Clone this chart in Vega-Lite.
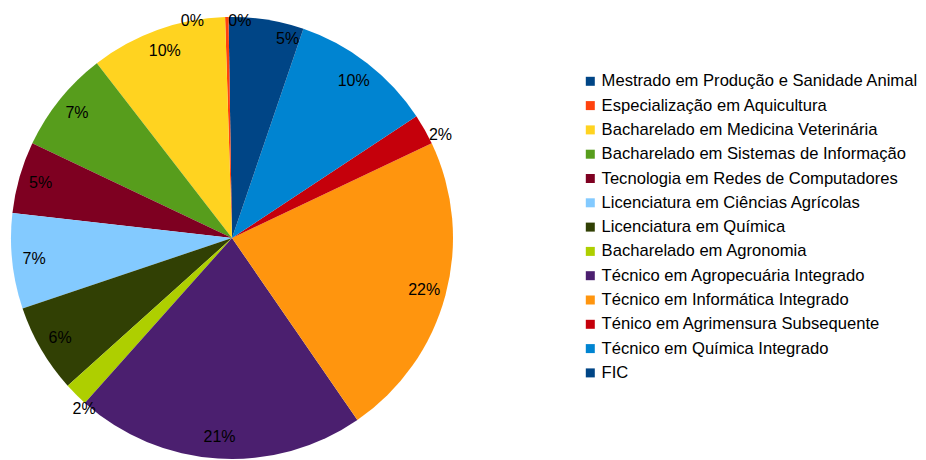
{
  "$schema": "https://vega.github.io/schema/vega-lite/v6.json",
  "autosize": {"type": "none"},
  "padding": {"left": 10, "top": 16, "right": 472, "bottom": 0},
  "width": 444,
  "height": 444,
  "background": "white",
  "config": {"view": {"stroke": null}, "font": "Liberation Sans"},
  "data": {
    "values": [
      {"idx": 1, "name": "Mestrado em Produção e Sanidade Animal", "count": 1},
      {"idx": 2, "name": "Especialização em Aquicultura", "count": 1},
      {"idx": 3, "name": "Bacharelado em Medicina Veterinária", "count": 40},
      {"idx": 4, "name": "Bacharelado em Sistemas de Informação", "count": 30},
      {"idx": 5, "name": "Tecnologia em Redes de Computadores", "count": 21},
      {"idx": 6, "name": "Licenciatura em Ciências Agrícolas", "count": 28},
      {"idx": 7, "name": "Licenciatura em Química", "count": 26},
      {"idx": 8, "name": "Bacharelado em Agronomia", "count": 7},
      {"idx": 9, "name": "Técnico em Agropecuária Integrado", "count": 85},
      {"idx": 10, "name": "Técnico em Informática Integrado", "count": 90},
      {"idx": 11, "name": "Ténico em Agrimensura Subsequente", "count": 9},
      {"idx": 12, "name": "Técnico em Química Integrado", "count": 42},
      {"idx": 13, "name": "FIC", "count": 21}
    ]
  },
  "transform": [
    {"joinaggregate": [{"op": "sum", "field": "count", "as": "total"}]},
    {"calculate": "datum.count / datum.total", "as": "pct"}
  ],
  "encoding": {
    "theta": {"field": "count", "type": "quantitative", "stack": true},
    "order": {"field": "idx", "type": "quantitative", "sort": "descending"}
  },
  "layer": [
    {
      "mark": {"type": "arc", "outerRadius": 221, "stroke": null},
      "encoding": {
        "color": {
          "field": "name",
          "type": "nominal",
          "scale": {
            "domain": [
              "Mestrado em Produção e Sanidade Animal",
              "Especialização em Aquicultura",
              "Bacharelado em Medicina Veterinária",
              "Bacharelado em Sistemas de Informação",
              "Tecnologia em Redes de Computadores",
              "Licenciatura em Ciências Agrícolas",
              "Licenciatura em Química",
              "Bacharelado em Agronomia",
              "Técnico em Agropecuária Integrado",
              "Técnico em Informática Integrado",
              "Ténico em Agrimensura Subsequente",
              "Técnico em Química Integrado",
              "FIC"
            ],
            "range": ["#004586", "#ff420e", "#ffd320", "#579d1c", "#7e0021", "#83caff", "#314004", "#aecf00", "#4b1f6f", "#ff950e", "#c5000b", "#0084d1", "#004586"]
          },
          "legend": {
            "title": null,
            "orient": "none",
            "legendX": 572,
            "legendY": 57,
            "padding": 0,
            "symbolType": "square",
            "symbolSize": 81,
            "symbolStrokeWidth": 0,
            "symbolOffset": 0,
            "labelOffset": 3,
            "labelFont": "Liberation Sans",
            "labelFontSize": 16.6,
            "labelColor": "#000000",
            "labelLimit": 400,
            "rowPadding": 7.3
          }
        }
      }
    },
    {
      "mark": {"type": "text", "radius": 199, "fontSize": 16, "font": "Liberation Sans", "color": "#000000", "align": "center", "baseline": "middle"},
      "encoding": {
        "text": {
          "condition": {"test": "datum.pct >= 0.03 && datum.name !== 'FIC'", "field": "pct", "format": ".0%"},
          "value": ""
        }
      }
    },
    {
      "mark": {"type": "text", "radius": 199, "dx": 23, "dy": -3, "fontSize": 16, "font": "Liberation Sans", "color": "#000000", "align": "center", "baseline": "middle"},
      "encoding": {
        "text": {
          "condition": {"test": "datum.name === 'FIC'", "field": "pct", "format": ".0%"},
          "value": ""
        }
      }
    },
    {
      "mark": {"type": "text", "radius": 226, "fontSize": 16, "font": "Liberation Sans", "color": "#000000", "align": "left", "baseline": "top"},
      "encoding": {
        "text": {
          "condition": {"test": "datum.name === 'Ténico em Agrimensura Subsequente'", "field": "pct", "format": ".0%"},
          "value": ""
        }
      }
    },
    {
      "mark": {"type": "text", "radius": 226, "dy": 3, "fontSize": 16, "font": "Liberation Sans", "color": "#000000", "align": "left", "baseline": "top"},
      "encoding": {
        "text": {
          "condition": {"test": "datum.name === 'Bacharelado em Agronomia'", "field": "pct", "format": ".0%"},
          "value": ""
        }
      }
    },
    {
      "mark": {"type": "text", "radius": 217, "dx": -2, "fontSize": 16, "font": "Liberation Sans", "color": "#000000", "align": "left", "baseline": "middle"},
      "encoding": {
        "text": {
          "condition": {"test": "datum.name === 'Mestrado em Produção e Sanidade Animal'", "field": "pct", "format": ".0%"},
          "value": ""
        }
      }
    },
    {
      "mark": {"type": "text", "radius": 217, "dx": -23, "fontSize": 16, "font": "Liberation Sans", "color": "#000000", "align": "right", "baseline": "middle"},
      "encoding": {
        "text": {
          "condition": {"test": "datum.name === 'Especialização em Aquicultura'", "field": "pct", "format": ".0%"},
          "value": ""
        }
      }
    }
  ]
}
